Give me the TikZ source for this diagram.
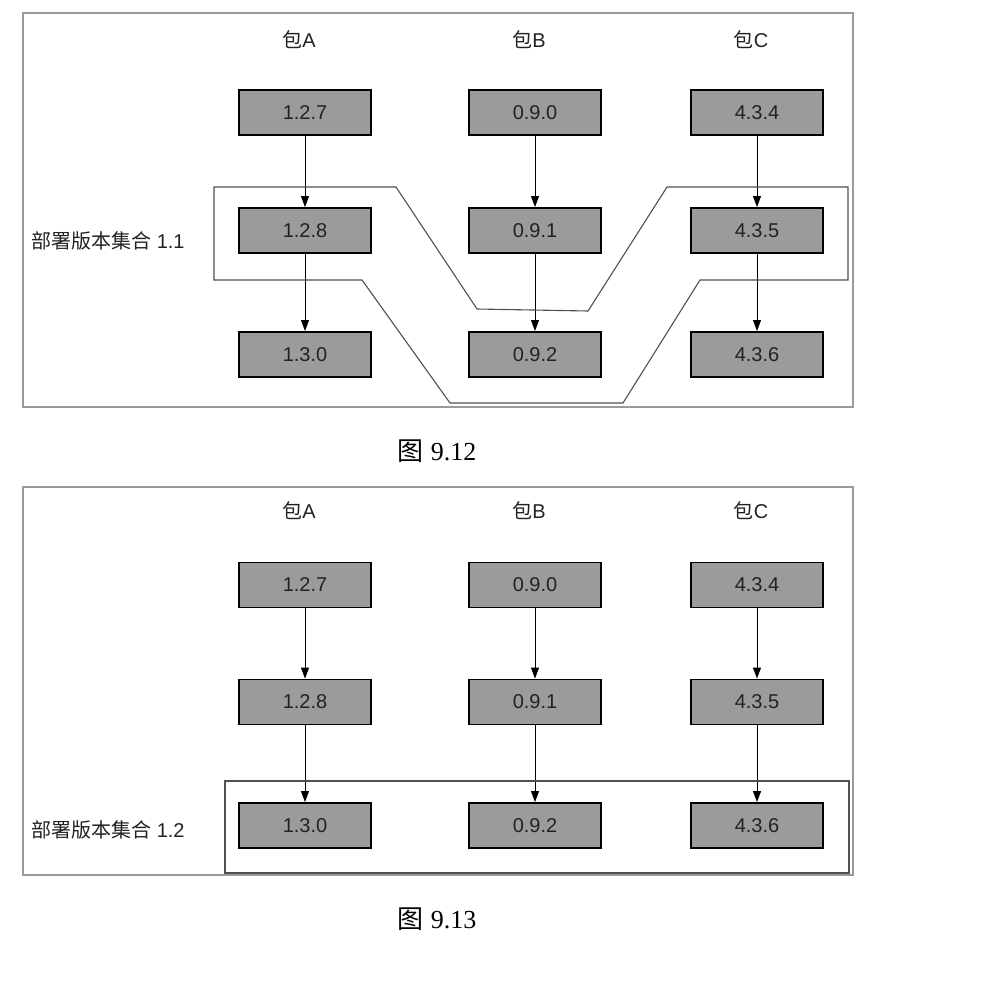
\documentclass[tikz,border=0pt]{standalone}
\usepackage{fontspec}
\setmainfont{Liberation Sans}
\newfontfamily\cjk{Noto Sans CJK SC}
\newfontfamily\serifnum{Liberation Serif}
\usetikzlibrary{arrows.meta}
\definecolor{boxgray}{HTML}{9B9B9B}
\definecolor{framegray}{HTML}{9A9A9A}
\definecolor{linegray}{HTML}{505050}
\definecolor{txt}{HTML}{222222}
\tikzset{
  verbox/.style={draw=black, line width=1.9pt, fill=boxgray, minimum width=132pt, minimum height=45pt, inner sep=0pt, font=\fontsize{20}{22}\selectfont, text=txt},
  pkglabel/.style={font=\fontsize{20}{22}\selectfont, text=txt, inner sep=0pt},
  setlabel/.style={font=\fontsize{20}{22}\selectfont, text=txt, inner sep=0pt, anchor=west},
  caption/.style={font=\fontsize{26}{28}\selectfont, text=black, inner sep=0pt},
  arr/.style={draw=black, line width=0.9pt, -{Triangle[width=8pt,length=11pt]}},
  frame/.style={draw=framegray, line width=1.5pt},
  setline/.style={draw=linegray, line width=1.1pt, line join=miter},
}
\begin{document}
\begin{tikzpicture}[x=1pt,y=-1pt]
\useasboundingbox (0,0) rectangle (992,983);
% ---------- figure 9.12 ----------
\draw[frame] (23,13) rectangle (853,407);
\node[pkglabel] (hA1) at (299,40) {{\cjk 包}A};
\node[pkglabel] (hB1) at (529,40) {{\cjk 包}B};
\node[pkglabel] (hC1) at (751,40) {{\cjk 包}C};
\node[verbox] (a1) at (305,112.5) {1.2.7};
\node[verbox] (a2) at (305,230.5) {1.2.8};
\node[verbox] (a3) at (305,354.5) {1.3.0};
\node[verbox] (b1) at (535,112.5) {0.9.0};
\node[verbox] (b2) at (535,230.5) {0.9.1};
\node[verbox] (b3) at (535,354.5) {0.9.2};
\node[verbox] (c1) at (757,112.5) {4.3.4};
\node[verbox] (c2) at (757,230.5) {4.3.5};
\node[verbox] (c3) at (757,354.5) {4.3.6};
\draw[arr] (a1) -- (a2); \draw[arr] (a2) -- (a3);
\draw[arr] (b1) -- (b2); \draw[arr] (b2) -- (b3);
\draw[arr] (c1) -- (c2); \draw[arr] (c2) -- (c3);
\draw[setline] (214,187) -- (396,187) -- (477,309) -- (588,311) -- (667,187)
  -- (848,187) -- (848,280) -- (700,280) -- (623,403) -- (450,403)
  -- (362,280) -- (214,280) -- cycle;
\node[setlabel] (s1) at (31,241) {{\cjk 部署版本集合} 1.1};
\node[caption] (cap1) at (437,451) {{\cjk 图} {\serifnum 9.12}};
% ---------- figure 9.13 ----------
\draw[frame] (23,487) rectangle (853,875);
\node[pkglabel] (hA2) at (299,511) {{\cjk 包}A};
\node[pkglabel] (hB2) at (529,511) {{\cjk 包}B};
\node[pkglabel] (hC2) at (751,511) {{\cjk 包}C};
\node[verbox] (A1) at (305,585) {1.2.7};
\node[verbox] (A2) at (305,702) {1.2.8};
\node[verbox] (A3) at (305,825.5) {1.3.0};
\node[verbox] (B1) at (535,585) {0.9.0};
\node[verbox] (B2) at (535,702) {0.9.1};
\node[verbox] (B3) at (535,825.5) {0.9.2};
\node[verbox] (C1) at (757,585) {4.3.4};
\node[verbox] (C2) at (757,702) {4.3.5};
\node[verbox] (C3) at (757,825.5) {4.3.6};
\draw[arr] (A1) -- (A2); \draw[arr] (A2) -- (A3);
\draw[arr] (B1) -- (B2); \draw[arr] (B2) -- (B3);
\draw[arr] (C1) -- (C2); \draw[arr] (C2) -- (C3);
\draw[setline] (225,781) rectangle (849,873);
\node[setlabel] (s2) at (31,830) {{\cjk 部署版本集合} 1.2};
\node[caption] (cap2) at (437,919) {{\cjk 图} {\serifnum 9.13}};
\end{tikzpicture}
\end{document}
